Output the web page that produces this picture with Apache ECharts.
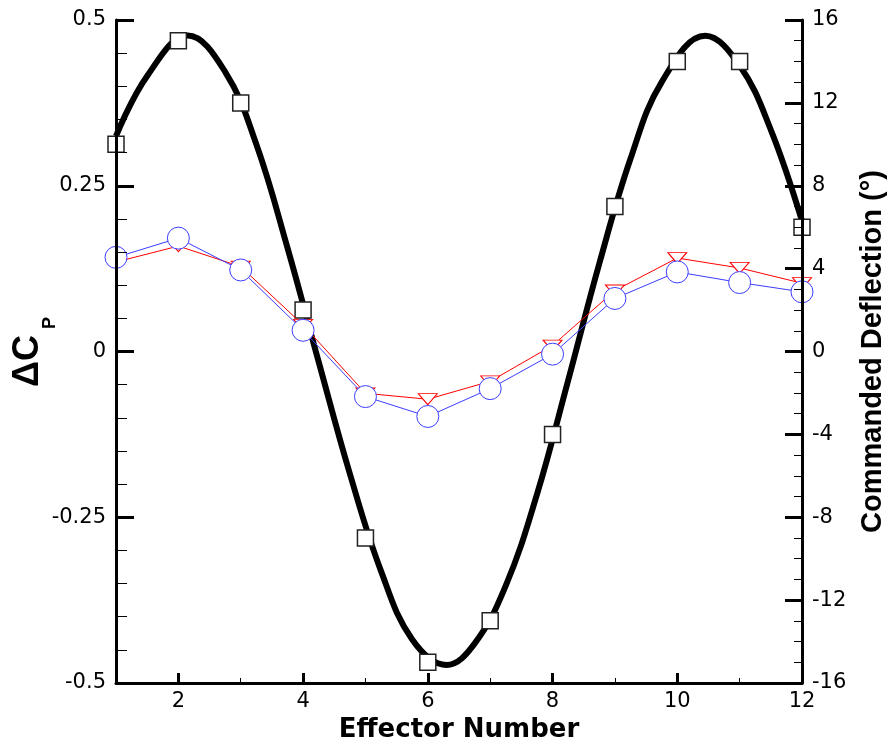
<!DOCTYPE html>
<html>
<head>
<meta charset="utf-8">
<script src="https://cdn.jsdelivr.net/npm/echarts@6/dist/echarts.min.js"></script>
<style>
html,body{margin:0;padding:0;background:#fff;}
#c{width:895px;height:749px;}
</style>
</head>
<body>
<div id="c"></div>
<script>
// ---- data ----
const effector = [1, 2, 3, 4, 5, 6, 7, 8, 9, 10, 11, 12];
const deflection = [10, 15, 12, 2, -9, -15, -13, -4, 7, 14, 14, 6];           // squares (deg)
const dcpRed = [0.135, 0.159, 0.128, 0.040, -0.063, -0.072, -0.045, 0.009, 0.092, 0.141, 0.126, 0.103];
const dcpBlue = [0.142, 0.171, 0.123, 0.032, -0.068, -0.098, -0.056, -0.004, 0.080, 0.120, 0.104, 0.090];
// continuous commanded-deflection curve (incl. its crests/trough)
const curveX   = [1, 1.5, 2.15, 2.75, 3.25, 3.75, 4.25, 4.75, 5.25, 5.75, 6.3, 6.75, 7.25, 7.75, 8.25, 8.75, 9.25, 9.75, 10.45, 11, 11.5, 12];
const curveDeg = [10.4, 13.3, 15.25, 13.5, 10.0, 5.0, -0.5, -5.9, -10.6, -13.9, -15.13, -14.1, -11.3, -6.9, -1.4, 4.25, 9.3, 13.0, 15.24, 13.8, 10.7, 6.3];
const xMajorTicks = [2, 4, 6, 8, 10, 12];

const pair = (xs, ys) => xs.map((x, i) => [x, ys[i]]);
const labelFont = {fontFamily: 'DejaVu Sans', fontSize: 21, color: '#000'};

const chart = echarts.init(document.getElementById('c'), null, {renderer: 'canvas'});
chart.setOption({
  animation: false,
  backgroundColor: '#fff',
  grid: {left: 116, right: 90, top: 20, bottom: 66, containLabel: false},
  xAxis: [{
    type: 'value', min: 1, max: 12, interval: 1, z: 10,
    axisLine: {show: true, onZero: false, lineStyle: {color: '#000', width: 3}},
    axisTick: {show: true, inside: true, length: 5, lineStyle: {color: '#000', width: 1}},
    axisLabel: Object.assign({margin: 8, formatter: v => (xMajorTicks.indexOf(v) >= 0 ? String(v) : '')}, labelFont),
    splitLine: {show: false},
    name: 'Effector Number', nameLocation: 'middle', nameGap: 31,
    nameTextStyle: {fontFamily: 'DejaVu Sans', fontWeight: 'bold', fontSize: 26, color: '#000'}
  }, {
    type: 'value', min: 1, max: 12, position: 'bottom', z: 11,
    axisLine: {show: false, onZero: false},
    axisTick: {show: true, inside: true, length: 10, customValues: xMajorTicks, lineStyle: {color: '#000', width: 3}},
    axisLabel: {show: false},
    splitLine: {show: false}
  }],
  yAxis: [{
    type: 'value', min: -0.5, max: 0.5, interval: 0.25, position: 'left', z: 10,
    axisLine: {show: true, onZero: false, lineStyle: {color: '#000', width: 3}},
    axisTick: {show: true, inside: true, length: 18, lineStyle: {color: '#000', width: 3}},
    minorTick: {show: true, splitNumber: 5, length: 11, lineStyle: {color: '#000', width: 1}},
    axisLabel: Object.assign({margin: 10}, labelFont),
    splitLine: {show: false}, minorSplitLine: {show: false}
  }, {
    type: 'value', min: -16, max: 16, interval: 4, position: 'right', z: 10,
    axisLine: {show: true, onZero: false, lineStyle: {color: '#000', width: 3}},
    axisTick: {show: true, inside: true, length: 17, lineStyle: {color: '#000', width: 3}},
    minorTick: {show: true, splitNumber: 4, length: 8, lineStyle: {color: '#000', width: 1}},
    axisLabel: Object.assign({margin: 10}, labelFont),
    splitLine: {show: false}, minorSplitLine: {show: false},
    name: 'Commanded Deflection (°)', nameLocation: 'middle', nameRotate: 90, nameGap: 56,
    nameTextStyle: {fontFamily: 'Liberation Sans', fontWeight: 'bold', fontSize: 29, color: '#000'}
  }],
  graphic: [
    {type: 'text', x: 28, y: 361, rotation: Math.PI / 2, z: 100,
     style: {text: 'ΔC', font: 'bold 36px "Liberation Sans"', fill: '#000', textAlign: 'center', textVerticalAlign: 'middle'}},
    {type: 'text', x: 50, y: 323, rotation: Math.PI / 2, z: 100,
     style: {text: 'P', font: 'bold 18px "Liberation Sans"', fill: '#000', textAlign: 'center', textVerticalAlign: 'middle'}}
  ],
  series: [{
    type: 'line', name: 'curve', xAxisIndex: 0, yAxisIndex: 1,
    data: pair(curveX, curveDeg), smooth: 0.4, showSymbol: false, symbol: 'none',
    lineStyle: {color: '#000', width: 6, cap: 'butt'}, z: 2, clip: true
  }, {
    type: 'scatter', name: 'squares', xAxisIndex: 0, yAxisIndex: 1,
    data: pair(effector, deflection), symbol: 'rect', symbolSize: 16, clip: false,
    itemStyle: {color: '#fff', borderColor: '#222', borderWidth: 1.5, opacity: 1}, z: 3
  }, {
    type: 'line', name: 'red', xAxisIndex: 0, yAxisIndex: 0,
    data: pair(effector, dcpRed), symbol: 'triangle', symbolSize: [19, 11], symbolRotate: 180,
    showAllSymbol: true, clip: false,
    lineStyle: {color: '#ff0000', width: 1},
    itemStyle: {color: '#fff', borderColor: '#ff0000', borderWidth: 1}, z: 4
  }, {
    type: 'line', name: 'blue', xAxisIndex: 0, yAxisIndex: 0,
    data: pair(effector, dcpBlue), symbol: 'circle', symbolSize: 22,
    showAllSymbol: true, clip: false,
    lineStyle: {color: '#3c3cff', width: 1},
    itemStyle: {color: '#fff', borderColor: '#3c3cff', borderWidth: 1}, z: 5
  }]
});
</script>
</body>
</html>
